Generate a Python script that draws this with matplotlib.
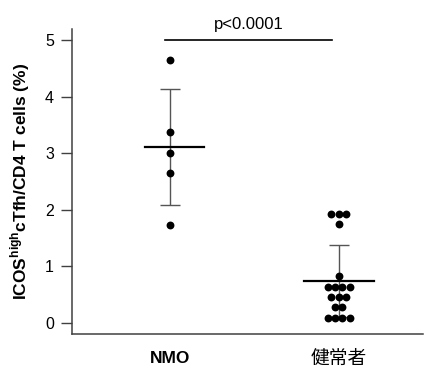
import numpy as np
from matplotlib import pyplot as plt

plt.rcParams["font.family"] = ["Liberation Sans", "Noto Sans CJK JP"]
plt.rcParams["mathtext.fontset"] = "custom"
plt.rcParams["mathtext.rm"] = "Liberation Sans"
plt.rcParams["mathtext.bf"] = "Liberation Sans:bold"

groups = ["NMO", "健常者"]
nmo_values = [4.66, 3.38, 3.01, 2.65, 1.73]
healthy_values = [1.92, 1.92, 1.92, 1.74, 0.82,
                  0.64, 0.64, 0.64, 0.64,
                  0.45, 0.45, 0.45,
                  0.27, 0.27,
                  0.09, 0.09, 0.09, 0.09]
means = [3.11, 0.74]
sds = [1.03, 0.64]
p_text = "p<0.0001"
yticks = [0, 1, 2, 3, 4, 5]

DOT_STEP = 0.044


def swarm_offsets(values):
    # spread identical values side by side, centred on the group
    values = np.asarray(values)
    offsets = np.zeros(len(values))
    for v in np.unique(values):
        idx = np.where(values == v)[0]
        n = len(idx)
        offsets[idx] = (np.arange(n) - (n - 1) / 2) * DOT_STEP
    return offsets


fig = plt.figure(figsize=(4.25, 3.71), dpi=100)
ax = fig.add_axes([0.1694, 0.0997, 0.826, 0.822])

line_gray = "#555555"
mean_half = [(-0.148, 0.201), (-0.207, 0.207)]
for i, (m, sd) in enumerate(zip(means, sds)):
    ax.errorbar(i, m, yerr=sd, fmt="none", ecolor=line_gray,
                elinewidth=1.0, capsize=7, capthick=1.0, zorder=1)
    lo, hi = mean_half[i]
    ax.plot([i + lo, i + hi], [m, m], color="black", lw=1.6, zorder=2)

for i, vals in enumerate([nmo_values, healthy_values]):
    xs = i + swarm_offsets(vals)
    ax.scatter(xs, vals, s=32, color="black", linewidths=0, zorder=3)

# significance bar
ax.plot([-0.03, 0.96], [5.0, 5.0], color="black", lw=1.2, clip_on=False)
ax.annotate(p_text, xy=(0.465, 5.0), xytext=(0, 8.5), textcoords="offset points",
            ha="center", va="baseline", fontsize=12, annotation_clip=False)

ax.set_xlim(-0.58, 1.5)
ax.set_ylim(-0.2, 5.2)
ax.set_yticks(yticks)
ax.set_yticklabels([str(t) for t in yticks], fontsize=11.5)
ax.set_xticks([0, 1])
ax.set_xticklabels(groups, fontsize=12.5)
xl = ax.get_xticklabels()
xl[0].set_fontweight("bold")
xl[1].set_fontsize(13.5)
ax.tick_params(axis="x", length=0, pad=12)
ax.tick_params(axis="y", length=8, width=1, color="#404040", pad=5)

for side in ["top", "right"]:
    ax.spines[side].set_visible(False)
for side in ["left", "bottom"]:
    ax.spines[side].set_color("#404040")
    ax.spines[side].set_linewidth(1.1)

ax.set_ylabel(r"ICOS$^{\mathbf{high}}$cTfh/CD4 T cells (%)",
              fontsize=12.5, fontweight="bold", labelpad=9)

fig.savefig("out.png", dpi=100)
